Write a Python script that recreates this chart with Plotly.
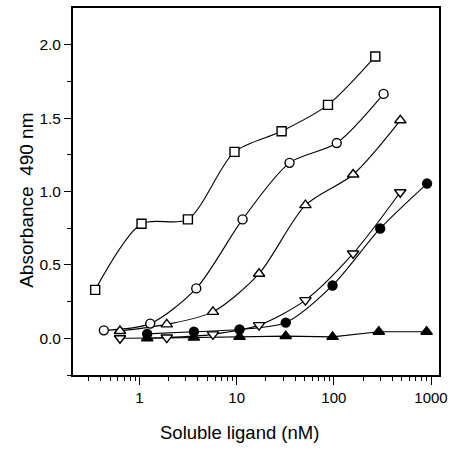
import plotly.graph_objects as go

# Soluble ligand concentration (nM) and absorbance at 490 nm for each series
conc_open_square = [0.35, 1.05, 3.15, 9.5, 29, 87, 267]
abs_open_square = [0.33, 0.78, 0.81, 1.27, 1.41, 1.59, 1.92]

conc_open_circle = [0.43, 1.29, 3.84, 11.5, 35, 107, 325]
abs_open_circle = [0.054, 0.10, 0.34, 0.81, 1.195, 1.33, 1.665]

conc_open_tri_up = [0.63, 1.91, 5.7, 17, 51, 158, 483]
abs_open_tri_up = [0.05, 0.095, 0.18, 0.44, 0.907, 1.116, 1.485]

conc_open_tri_down = [0.63, 1.91, 5.7, 17, 51, 158, 482]
abs_open_tri_down = [0.0, 0.005, 0.027, 0.09, 0.26, 0.578, 0.995]

conc_filled_circle = [1.2, 3.63, 10.7, 32, 97, 300, 910]
abs_filled_circle = [0.03, 0.045, 0.06, 0.107, 0.36, 0.748, 1.054]

conc_filled_tri = [1.2, 3.63, 10.7, 32, 97, 290, 900]
abs_filled_tri = [0.0, 0.005, 0.01, 0.015, 0.01, 0.045, 0.045]

x_tick_vals = [1, 10, 100, 1000]
x_tick_text = ["1", "10", "100", "1000"]
y_tick_vals = [0.0, 0.5, 1.0, 1.5, 2.0]
y_tick_text = ["0.0", "0.5", "1.0", "1.5", "2.0"]

x_minor_vals = [m * 10 ** e for e in range(-1, 4) for m in range(2, 10)]
y_minor_vals = [-0.25, 0.25, 0.75, 1.25, 1.75]

x_title = "Soluble ligand (nM)"
y_title = "Absorbance  490 nm"

series = [
    (conc_open_square, abs_open_square, "square", "spline", "white", 9),
    (conc_open_circle, abs_open_circle, "circle", "spline", "white", 9),
    (conc_open_tri_up, abs_open_tri_up, "triangle-up", "spline", "white", 10),
    (conc_open_tri_down, abs_open_tri_down, "triangle-down", "spline", "white", 10),
    (conc_filled_circle, abs_filled_circle, "circle", "spline", "black", 9),
    (conc_filled_tri, abs_filled_tri, "triangle-up", "linear", "black", 10),
]

fig = go.Figure()
# lines first
for xs, ys, sym, shape, fill, size in series:
    line = dict(color="black", width=1.1, shape=shape)
    if shape == "spline":
        line["smoothing"] = 0.8
    fig.add_trace(go.Scatter(
        x=xs, y=ys, mode="lines", line=line,
        showlegend=False, hoverinfo="skip",
    ))
# markers on top
for xs, ys, sym, shape, fill, size in series:
    fig.add_trace(go.Scatter(
        x=xs, y=ys, mode="markers",
        marker=dict(symbol=sym, size=size, color=fill,
                    line=dict(color="black", width=1.4)),
        showlegend=False,
    ))

font_family = "Liberation Sans, Arial, sans-serif"
fig.update_layout(
    width=452, height=449,
    margin=dict(l=73, r=13, t=8, b=74),
    paper_bgcolor="white", plot_bgcolor="white",
    font=dict(family=font_family, color="black", size=15),
    xaxis=dict(
        type="log", range=[-0.684, 3.082], automargin=False,
        tickvals=x_tick_vals, ticktext=x_tick_text,
        ticks="outside", ticklen=8, tickwidth=1.3, tickcolor="black",
        minor=dict(tickmode="array", tickvals=x_minor_vals, ticks="outside",
                   ticklen=4, tickwidth=1.2, tickcolor="black"),
        showline=True, linecolor="black", linewidth=1.8, mirror=True,
        showgrid=False, zeroline=False,
        tickfont=dict(size=15),
    ),
    yaxis=dict(
        range=[-0.25, 2.25], automargin=False,
        tickvals=y_tick_vals, ticktext=y_tick_text,
        ticks="outside", ticklen=7, tickwidth=1.3, tickcolor="black",
        minor=dict(tickmode="array", tickvals=y_minor_vals, ticks="outside",
                   ticklen=4, tickwidth=1.2, tickcolor="black"),
        showline=True, linecolor="black", linewidth=1.8, mirror=True,
        showgrid=False, zeroline=False,
        tickfont=dict(size=15.5),
    ),
    annotations=[
        dict(text=x_title, xref="paper", yref="paper", x=0.455, y=-0.158,
             xanchor="center", yanchor="middle", showarrow=False,
             font=dict(size=18.5)),
        dict(text=y_title, xref="paper", yref="paper", x=-0.126, y=0.477,
             xanchor="center", yanchor="middle", showarrow=False,
             textangle=-90, font=dict(size=19)),
    ],
)

fig.write_html("out.html", config={"displayModeBar": False},
               post_script="document.body.style.margin='0';")
